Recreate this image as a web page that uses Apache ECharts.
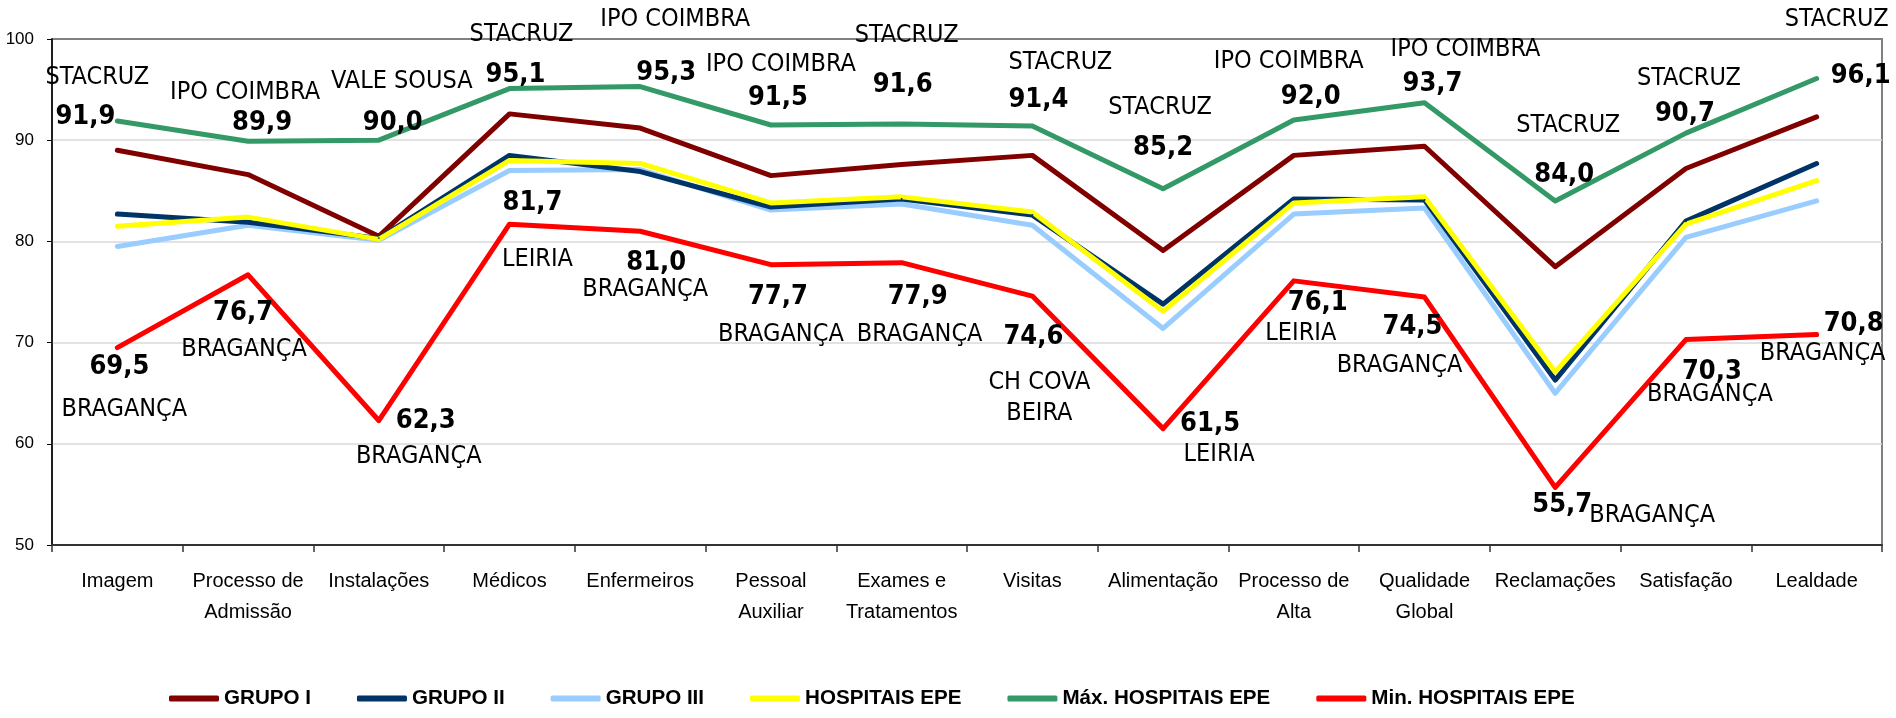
<!DOCTYPE html>
<html>
<head>
<meta charset="utf-8">
<script src="https://cdn.jsdelivr.net/npm/echarts@6/dist/echarts.min.js"></script>
<style>
html,body{margin:0;padding:0;background:#fff;}
#chart{width:1896px;height:718px;}
</style>
</head>
<body>
<div id="chart"></div>
<script>
const categories = ['Imagem','Processo de\nAdmissão','Instalações','Médicos','Enfermeiros','Pessoal\nAuxiliar','Exames e\nTratamentos','Visitas','Alimentação','Processo de\nAlta','Qualidade\nGlobal','Reclamações','Satisfação','Lealdade'];
const grupo1 = [89.0, 86.6, 80.5, 92.6, 91.2, 86.5, 87.6, 88.5, 79.1, 88.5, 89.4, 77.5, 87.2, 92.3];
const grupo2 = [82.7, 81.9, 80.3, 88.5, 86.9, 83.4, 84.2, 82.6, 73.8, 84.2, 84.1, 66.3, 82.0, 87.7];
const grupo3 = [79.5, 81.6, 80.1, 87.0, 87.1, 83.1, 83.7, 81.6, 71.4, 82.7, 83.3, 65.0, 80.4, 84.0];
const hospEPE = [81.5, 82.4, 80.2, 88.0, 87.7, 83.8, 84.4, 82.9, 73.1, 83.8, 84.4, 67.1, 81.7, 86.0];
const maxEPE = [91.9, 89.9, 90.0, 95.1, 95.3, 91.5, 91.6, 91.4, 85.2, 92.0, 93.7, 84.0, 90.7, 96.1];
const maxHosp = ['STACRUZ','IPO COIMBRA','VALE SOUSA','STACRUZ','IPO COIMBRA','IPO COIMBRA','STACRUZ','STACRUZ','STACRUZ','IPO COIMBRA','IPO COIMBRA','STACRUZ','STACRUZ','STACRUZ'];
const minEPE = [69.5, 76.7, 62.3, 81.7, 81.0, 77.7, 77.9, 74.6, 61.5, 76.1, 74.5, 55.7, 70.3, 70.8];
const minHosp = ['BRAGANÇA','BRAGANÇA','BRAGANÇA','LEIRIA','BRAGANÇA','BRAGANÇA','BRAGANÇA','CH COVA\nBEIRA','LEIRIA','LEIRIA','BRAGANÇA','BRAGANÇA','BRAGANÇA','BRAGANÇA'];
const yTicks = {min: 50, max: 100, interval: 10};

// label layout (pixel offsets of label centres from their points)
const maxValOff = [[-32,-4],[14,-18],[14,-17],[6,-14],[26,-14],[7,-27],[1,-39],[6,-26],[0,-41],[17,-23],[8,-19],[9,-26],[-1,-19],[44,-2]];
const maxNameOff = [[-20,-43],[-3,-49],[23,-59],[12,-54],[35,-67],[10,-61],[5,-89],[28,-64],[-3,-81],[-5,-58],[41,-53],[13,-75],[3,-55],[20,-59]];
const minValOff = [[2,19],[-5,38],[47,0],[23,-21],[16,32],[7,32],[16,34],[1,41],[47,-5],[24,22],[-12,30],[7,18],[26,32],[37,-11]];
const minNameOff = [[7,62],[-4,75],[40,36],[28,35],[5,58],[10,70],[18,72],[7,102],[56,26],[7,53],[-25,68],[97,28],[24,55],[6,19]];

const fmt = v => v.toFixed(1).replace('.', ',');
const NARROW = "'Liberation Sans Narrow','Arial Narrow','DejaVu Sans Condensed',sans-serif";
const ARIAL = "'Liberation Sans',Arial,sans-serif";

function lineSeries(name, data, color, z) {
  return {
    name, type: 'line', data, z,
    symbol: 'circle', symbolSize: 2, showSymbol: true,
    itemStyle: {color},
    lineStyle: {color, width: 5, join: 'round', cap: 'round'},
    emphasis: {disabled: true}, silent: true
  };
}
function labelled(values, offs, textFn, bold, size) {
  return values.map((v, i) => ({
    value: v,
    label: {
      show: true, position: 'inside', offset: offs[i],
      formatter: () => textFn(i),
      color: '#000', fontFamily: NARROW, fontSize: size,
      fontWeight: bold ? 'bold' : 'normal', lineHeight: 31,
      align: 'center', verticalAlign: 'middle'
    }
  }));
}
function hiddenSeries(data, z) {
  return {
    type: 'line', data, z, silent: true,
    symbol: 'circle', symbolSize: 1,
    itemStyle: {color: 'rgba(0,0,0,0)'},
    lineStyle: {opacity: 0},
    emphasis: {disabled: true}
  };
}

const s1 = lineSeries('GRUPO I', grupo1, '#800000', 2);
const s2 = lineSeries('GRUPO II', grupo2, '#003366', 3);
const s3 = lineSeries('GRUPO III', grupo3, '#99CCFF', 2);
const s4 = lineSeries('HOSPITAIS EPE', hospEPE, '#FFFF00', 3);
const s5 = lineSeries('Máx. HOSPITAIS EPE', labelled(maxEPE, maxValOff, i => fmt(maxEPE[i]), true, 27), '#339966', 4);
const s6 = lineSeries('Min. HOSPITAIS EPE', labelled(minEPE, minValOff, i => fmt(minEPE[i]), true, 27), '#FF0000', 4);
const s7 = hiddenSeries(labelled(maxEPE, maxNameOff, i => maxHosp[i], false, 25), 5);
const s8 = hiddenSeries(labelled(minEPE, minNameOff, i => minHosp[i], false, 25), 5);

const chart = echarts.init(document.getElementById('chart'), null, {renderer: 'canvas'});
chart.setOption({
  animation: false,
  backgroundColor: '#fff',
  grid: {left: 52, right: 14, top: 39, bottom: 173, show: true, borderColor: '#808080', borderWidth: 2},
  legend: {
    data: ['GRUPO I','GRUPO II','GRUPO III','HOSPITAIS EPE','Máx. HOSPITAIS EPE','Min. HOSPITAIS EPE'],
    left: 164, top: 683, itemWidth: 50, itemHeight: 6, itemGap: 46, icon: 'roundRect',
    textStyle: {fontFamily: ARIAL, fontSize: 20.6, fontWeight: 'bold', color: '#000'},
    selectedMode: false
  },
  xAxis: {
    type: 'category', data: categories, boundaryGap: true,
    axisLine: {lineStyle: {color: '#333', width: 2}},
    axisTick: {show: true, length: 7, interval: 0, lineStyle: {color: '#333', width: 1.5}},
    axisLabel: {interval: 0, fontFamily: ARIAL, fontSize: 20, color: '#000', margin: 21, lineHeight: 31}
  },
  yAxis: {
    type: 'value', min: yTicks.min, max: yTicks.max, interval: yTicks.interval,
    axisLine: {show: true, lineStyle: {color: '#000', width: 1.5}},
    axisTick: {show: true, length: 5, lineStyle: {color: '#000'}},
    axisLabel: {fontFamily: ARIAL, fontSize: 17, color: '#000', margin: 18},
    splitLine: {show: true, lineStyle: {color: ['#d9d9d9','#d9d9d9','#d9d9d9','#d9d9d9','#d9d9d9','#808080'], width: 1.5}}
  },
  series: [s1, s2, s3, s4, s5, s6, s7, s8]
});
</script>
</body>
</html>
